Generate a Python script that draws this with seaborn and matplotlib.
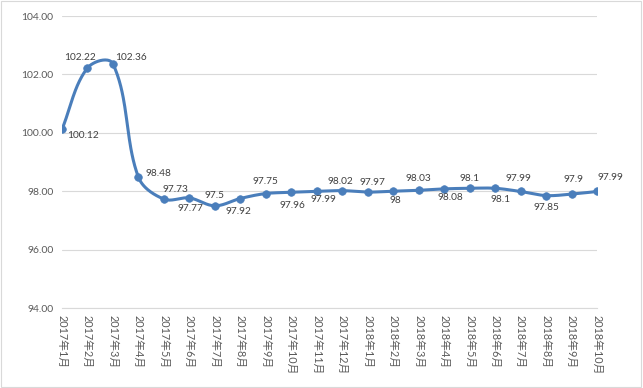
import numpy as np
import pandas as pd
import matplotlib
matplotlib.use("Agg")
import matplotlib.pyplot as plt
import seaborn as sns
from matplotlib.patches import Rectangle

# Data
months = ['2017年1月', '2017年2月', '2017年3月', '2017年4月', '2017年5月', '2017年6月',
          '2017年7月', '2017年8月', '2017年9月', '2017年10月', '2017年11月', '2017年12月',
          '2018年1月', '2018年2月', '2018年3月', '2018年4月', '2018年5月', '2018年6月',
          '2018年7月', '2018年8月', '2018年9月', '2018年10月']
values = [100.12, 102.22, 102.36, 98.48, 97.73, 97.77, 97.5, 97.75, 97.92, 97.96, 97.99,
          98.02, 97.97, 98.0, 98.03, 98.08, 98.1, 98.1, 97.99, 97.85, 97.9, 97.99]
# data label texts as they appear on the chart
labels = ['100.12', '102.22', '102.36', '98.48', '97.73', '97.77', '97.5', '97.92', '97.75',
          '97.96', '97.99', '98.02', '97.97', '98', '98.03', '98.08', '98.1', '98.1', '97.99',
          '97.85', '97.9', '97.99']
# label offsets in pixels (dx, dy up)
offsets = [(21, -6), (-7, 10), (18, 6), (20, 4), (12, 10), (1, -11), (0, 10), (-2, -13),
           (0, 12), (1, -13), (7, -8), (-2, 9), (5, 10), (2, -9), (0, 12), (6, -9), (0, 10),
           (5, -11), (-2, 13), (0, -12), (2, 15), (13, 14)]
yticks = [94, 96, 98, 100, 102, 104]

df = pd.DataFrame({'x': np.arange(len(months)), 'value': values})

# pixel scale of one unit on each axis, used for the smoothing
XS = 535 / (len(months) - 1)
YS = 292 / 10


# smooth line similar to Excel: bezier, tangent from neighbours, length-weighted handles
def smooth(xs, ys, n=40):
    P = np.column_stack([xs * XS, ys * YS])
    m = len(P)
    dirs = []
    for i in range(m):
        a = P[max(i - 1, 0)]
        b = P[min(i + 1, m - 1)]
        d = b - a
        dirs.append(d / np.linalg.norm(d))
    t = np.linspace(0, 1, n)[:, None]
    out = []
    for i in range(m - 1):
        p0, p3 = P[i], P[i + 1]
        L = np.linalg.norm(p3 - p0)
        p1 = p0 + dirs[i] * L / 3
        p2 = p3 - dirs[i + 1] * L / 3
        b = (1 - t) ** 3 * p0 + 3 * (1 - t) ** 2 * t * p1 + 3 * (1 - t) * t ** 2 * p2 + t ** 3 * p3
        out.append(b)
    out = np.vstack(out)
    return out[:, 0] / XS, out[:, 1] / YS


sx, sy = smooth(df['x'].values.astype(float), df['value'].values)
curve = pd.DataFrame({'x': sx, 'y': sy})

sns.set_style('white')
plt.rcParams['font.family'] = ['Lato', 'Noto Sans CJK SC', 'DejaVu Sans']

fig = plt.figure(figsize=(6.43, 3.88), dpi=100)
ax = fig.add_axes([62 / 643, 1 - 308 / 388, 535 / 643, 292 / 388])

color = '#4a7ebb'
sns.lineplot(data=curve, x='x', y='y', sort=False, color=color, linewidth=2.2, ax=ax, zorder=3)
sns.scatterplot(data=df, x='x', y='value', color=color, s=30, edgecolor=color, linewidth=0.5,
                ax=ax, zorder=4)

for i, (v, lab, off) in enumerate(zip(values, labels, offsets)):
    ax.annotate(lab, (i, v), xytext=(off[0] * 0.72, off[1] * 0.72), textcoords='offset points',
                ha='center', va='center', fontsize=7.3, color='#404040', zorder=5)

ax.set_xlim(0, len(months) - 1)
ax.set_ylim(94, 104)
ax.set_yticks(yticks)
ax.set_yticklabels([f'{t:.2f}' for t in yticks])
ax.set_xticks(range(len(months)))
ax.set_xticklabels(months, rotation=-90, ha='center', va='top')
ax.set_xlabel('')
ax.set_ylabel('')

ax.grid(axis='y', color='#d9d9d9', linewidth=0.8)
ax.set_axisbelow(True)
for s in ['left', 'right', 'top']:
    ax.spines[s].set_visible(False)
ax.spines['bottom'].set_color('#d9d9d9')
ax.spines['bottom'].set_linewidth(0.8)
ax.tick_params(axis='x', direction='in', length=3, width=0.8, color='#d9d9d9',
               labelsize=7.8, labelcolor='#595959', pad=5)
ax.tick_params(axis='y', length=0, labelsize=7.5, labelcolor='#595959', pad=6)

fig.patches.append(Rectangle((1 / 643, 1.5 / 388), 640 / 643, 385.5 / 388, transform=fig.transFigure,
                             fill=False, edgecolor='#d9d9d9', linewidth=0.8))

fig.savefig('out.png', dpi=100)
